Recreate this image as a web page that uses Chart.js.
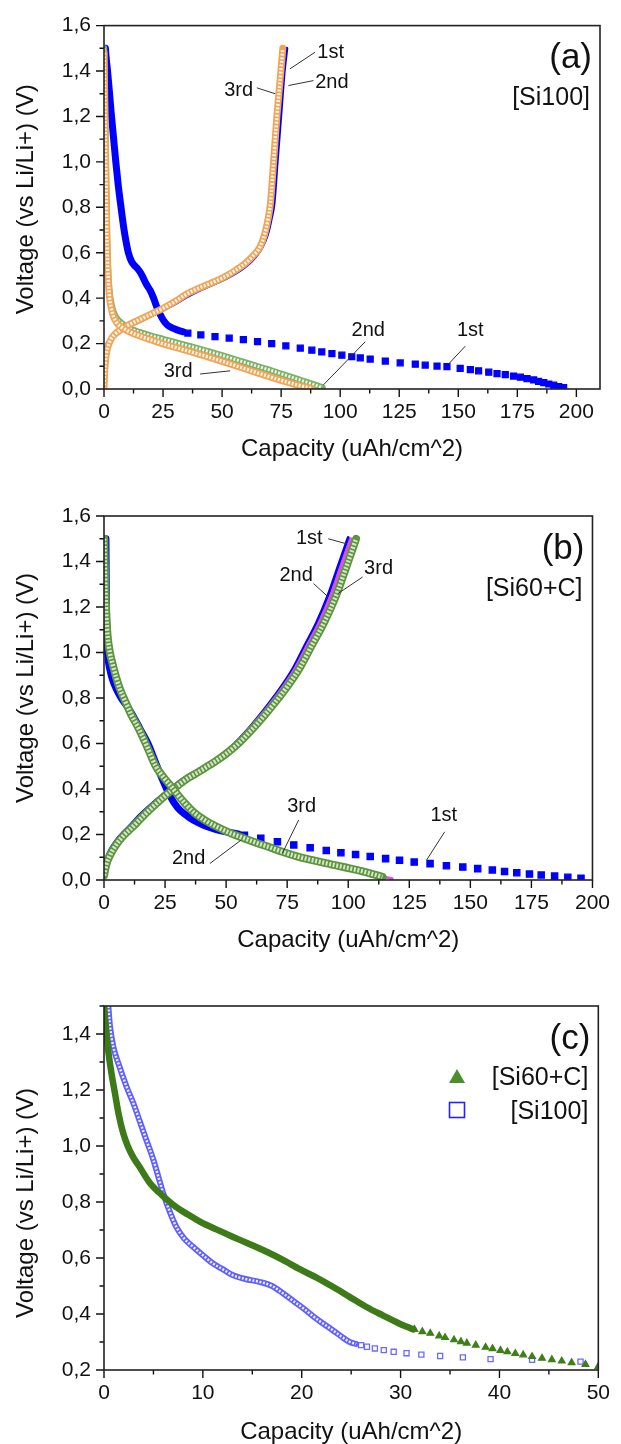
<!DOCTYPE html>
<html lang="en">
<head>
<meta charset="UTF-8" />
<title>Voltage vs capacity</title>
<script src="https://cdn.jsdelivr.net/npm/chart.js"></script>
<style>
  body { margin: 0; background: #fff; width: 621px; height: 1444px; position: relative; }
  .panel { position: absolute; left: 0; width: 621px; }
</style>
</head>
<body>
<div class="panel" style="top:0px"><canvas id="pa" width="621" height="480"></canvas></div>
<div class="panel" style="top:480px"><canvas id="pb" width="621" height="480"></canvas></div>
<div class="panel" style="top:960px"><canvas id="pc" width="621" height="484"></canvas></div>
<script>
// ---- panel (a) [Si100] ----
const aDis1Cap = [0.6, 1.0, 1.5, 2.2, 3.0, 4.0, 5.0, 6.0, 7.2, 8.5, 9.5, 10.3, 11.5, 12.8, 14.2, 15.6, 16.7, 18.0, 19.5, 21.0, 22.3, 23.7, 25.1, 27.0, 29.4, 31.5, 33.6];
const aDis1V = [1.50, 1.45, 1.40, 1.32, 1.22, 1.11, 1.00, 0.90, 0.80, 0.70, 0.64, 0.60, 0.565, 0.545, 0.53, 0.51, 0.487, 0.46, 0.435, 0.40, 0.362, 0.33, 0.303, 0.28, 0.267, 0.258, 0.252];
const aDis1TailCap = [35.5, 41, 47, 53, 59, 65, 71, 77, 83.1, 88, 92.2, 96.5, 100.7, 104.9, 108.5, 112.7, 119.1, 125.4, 131.8, 136, 141, 145.2, 150.8, 155.1, 158.6, 162.9, 166.4, 169.9, 173.4, 176.3, 179.1, 181.9, 184, 186.2, 188.3, 190.4, 192.5, 194.6];
const aDis1TailV = [0.246, 0.238, 0.231, 0.224, 0.217, 0.209, 0.2, 0.19, 0.18, 0.171, 0.163, 0.156, 0.149, 0.142, 0.137, 0.132, 0.123, 0.115, 0.109, 0.105, 0.101, 0.098, 0.091, 0.085, 0.08, 0.074, 0.068, 0.063, 0.057, 0.052, 0.046, 0.04, 0.034, 0.028, 0.022, 0.017, 0.011, 0.006];
const aDis2Cap = [0, 0.3, 0.6, 0.9, 1.2, 1.6, 2.2, 3, 4, 5.5, 7.5, 10, 13, 16, 20, 25, 30, 35, 40, 45, 50, 55, 60, 65, 70, 75, 80, 85, 89, 92.5];
const aDis2V = [1.5, 1.3, 1.1, 0.9, 0.7, 0.55, 0.44, 0.38, 0.34, 0.31, 0.29, 0.272, 0.258, 0.247, 0.234, 0.22, 0.206, 0.192, 0.178, 0.163, 0.148, 0.132, 0.116, 0.1, 0.084, 0.067, 0.05, 0.033, 0.019, 0.006];
const aDis3Cap = [0, 0.3, 0.6, 0.9, 1.2, 1.6, 2.2, 3, 4, 5.5, 7.5, 10, 13, 16, 20, 25, 30, 35, 40, 45, 50, 55, 60, 65, 70, 75, 80, 84, 88];
const aDis3V = [1.48, 1.28, 1.08, 0.88, 0.68, 0.53, 0.42, 0.36, 0.32, 0.29, 0.272, 0.256, 0.242, 0.23, 0.216, 0.199, 0.184, 0.169, 0.154, 0.138, 0.122, 0.105, 0.088, 0.071, 0.054, 0.038, 0.023, 0.012, 0.002];
const aChg1Cap = [0, 0.5, 1.5, 3, 5, 7.5, 10, 15, 20, 25, 30, 35, 40, 45, 50, 55, 60, 64, 67, 69.2, 70.8, 72, 73.3, 74.8, 76.3, 77.4];
const aChg1V = [0.155, 0.18, 0.205, 0.225, 0.243, 0.258, 0.272, 0.297, 0.322, 0.347, 0.375, 0.405, 0.432, 0.455, 0.478, 0.505, 0.54, 0.58, 0.625, 0.68, 0.75, 0.82, 1.0, 1.2, 1.4, 1.5];
const aChg2Cap = [0, 0.3, 0.8, 1.5, 3, 5, 7, 10, 15, 20, 25, 30, 35, 40, 45, 50, 55, 60, 63.5, 66.5, 68.6, 70.1, 71.2, 72.5, 73.9, 75.6, 76.5];
const aChg2V = [0, 0.06, 0.12, 0.17, 0.215, 0.24, 0.256, 0.277, 0.302, 0.327, 0.352, 0.382, 0.414, 0.44, 0.462, 0.485, 0.515, 0.552, 0.585, 0.625, 0.68, 0.75, 0.82, 1.0, 1.2, 1.4, 1.5];
const aChg3Cap = [0, 0.3, 0.8, 1.5, 3, 5, 7, 10, 15, 20, 25, 30, 35, 40, 45, 50, 55, 60, 63, 66, 68, 69.5, 70.5, 71.8, 73.2, 74.9, 75.7];
const aChg3V = [0, 0.08, 0.14, 0.18, 0.22, 0.245, 0.26, 0.28, 0.305, 0.33, 0.355, 0.385, 0.418, 0.443, 0.465, 0.488, 0.518, 0.555, 0.585, 0.625, 0.68, 0.75, 0.82, 1.0, 1.2, 1.4, 1.5];

// ---- panel (b) [Si60+C] ----
const bDis1Cap = [0.8, 0.9, 1.0, 1.2, 1.6, 2.3, 3.5, 5, 7, 9, 12, 15, 18, 21, 24, 27, 30, 33, 37, 41, 45, 50, 55];
const bDis1V = [1.5, 1.35, 1.2, 1.06, 0.98, 0.93, 0.88, 0.84, 0.8, 0.77, 0.72, 0.66, 0.6, 0.52, 0.44, 0.37, 0.32, 0.29, 0.26, 0.24, 0.225, 0.212, 0.202];
const bDis1TailCap = [57.5, 64.2, 71, 77.7, 84.4, 91, 97, 103, 109, 115.3, 121, 127, 133.5, 140.2, 146.9, 153, 159, 164, 169, 174.2, 179, 184.5, 189.9, 195.3];
const bDis1TailV = [0.197, 0.183, 0.168, 0.154, 0.142, 0.13, 0.12, 0.112, 0.103, 0.094, 0.087, 0.079, 0.072, 0.063, 0.057, 0.05, 0.044, 0.037, 0.032, 0.026, 0.022, 0.017, 0.012, 0.008];
const bDis2Cap = [0.1, 0.3, 0.6, 1.0, 1.5, 2.4, 3.5, 5, 6.5, 8.5, 11, 14.5, 17.5, 21.2, 24.5, 28, 30.5, 33.3, 37, 41.4, 46, 52, 57, 62, 67, 73, 79, 85, 92.5, 99, 105.9, 112, 118];
const bDis2V = [1.5, 1.38, 1.25, 1.13, 1.05, 0.98, 0.93, 0.875, 0.83, 0.78, 0.72, 0.65, 0.58, 0.49, 0.44, 0.395, 0.36, 0.325, 0.285, 0.252, 0.226, 0.196, 0.176, 0.156, 0.138, 0.116, 0.096, 0.08, 0.063, 0.048, 0.032, 0.019, 0.006];
const bDis3Cap = [0.1, 0.3, 0.6, 1.0, 1.5, 2.4, 3.5, 5, 6.5, 8.5, 11, 14.5, 17.5, 21.2, 24.5, 28, 30.5, 33.3, 37, 41.4, 46, 52, 57, 62, 67, 73, 79, 85, 92.5, 99, 105.9, 110, 114];
const bDis3V = [1.5, 1.4, 1.27, 1.15, 1.07, 1.0, 0.95, 0.89, 0.84, 0.79, 0.73, 0.66, 0.59, 0.5, 0.45, 0.405, 0.37, 0.335, 0.295, 0.262, 0.235, 0.205, 0.185, 0.165, 0.147, 0.124, 0.104, 0.088, 0.07, 0.055, 0.038, 0.026, 0.014];
const bChg1Cap = [0, 1, 2.5, 5, 8, 11.5, 14.5, 18, 21.5, 24.8, 28.4, 31.3, 34.2, 37.8, 41, 44.3, 48.8, 53.5, 58.3, 63, 67.8, 72.6, 77.4, 82.2, 87, 91.7, 95.6, 100];
const bChg1V = [0.066, 0.1, 0.135, 0.175, 0.212, 0.25, 0.285, 0.32, 0.353, 0.383, 0.413, 0.437, 0.458, 0.48, 0.5, 0.522, 0.555, 0.6, 0.655, 0.715, 0.78, 0.85, 0.93, 1.03, 1.13, 1.25, 1.37, 1.505];
const bChg2Cap = [0, 1, 2.5, 5, 8, 11.5, 14.7, 18.1, 21.5, 24.8, 28.4, 31.3, 34.2, 37.8, 41, 44.3, 48.8, 53.7, 58.6, 63.5, 68.4, 73.3, 78.2, 83.1, 88, 92.8, 96.7, 101];
const bChg2V = [0.04, 0.085, 0.125, 0.168, 0.207, 0.245, 0.28, 0.316, 0.35, 0.38, 0.411, 0.434, 0.455, 0.477, 0.498, 0.52, 0.555, 0.6, 0.655, 0.715, 0.78, 0.85, 0.93, 1.03, 1.13, 1.25, 1.37, 1.5];
const bChg3Cap = [0, 1, 2.5, 5, 8, 11.8, 15, 18.5, 22, 25.3, 29, 32, 35, 38.7, 42, 45.4, 50, 55, 60, 65, 70, 75, 80, 85, 90, 95, 99, 103.2];
const bChg3V = [0.02, 0.07, 0.11, 0.155, 0.195, 0.234, 0.27, 0.307, 0.342, 0.373, 0.405, 0.43, 0.452, 0.475, 0.497, 0.52, 0.555, 0.6, 0.655, 0.715, 0.78, 0.85, 0.93, 1.03, 1.13, 1.25, 1.37, 1.5];

// ---- panel (c) first discharge comparison ----
const cSiCCap = [0, 0.15, 0.3, 0.5, 0.8, 1.1, 1.5, 1.95, 2.4, 2.95, 3.6, 4.6, 6.0, 7.0, 8.5, 9.7, 11.3, 13, 14.7, 16.4, 18, 19.8, 21.5, 23.1, 24.8, 26.5, 28.2, 29.8, 30.6, 31.3];
const cSiCV = [1.5, 1.44, 1.38, 1.32, 1.25, 1.19, 1.11, 1.045, 1.0, 0.96, 0.925, 0.87, 0.82, 0.79, 0.755, 0.73, 0.703, 0.676, 0.65, 0.623, 0.595, 0.56, 0.53, 0.498, 0.462, 0.426, 0.395, 0.367, 0.355, 0.345];
const cSiCTailCap = [31.4, 32.2, 33.0, 33.9, 34.5, 35.4, 36.1, 36.7, 37.6, 38.6, 39.3, 40.1, 40.8, 41.6, 42.4, 43.3, 44.3, 45.3, 46.3, 47.3, 48.7, 50.0];
const cSiCTailV = [0.345, 0.337, 0.331, 0.322, 0.316, 0.308, 0.301, 0.296, 0.289, 0.281, 0.276, 0.27, 0.265, 0.259, 0.254, 0.248, 0.242, 0.237, 0.232, 0.226, 0.22, 0.213];
const cSiCap = [0.44, 0.6, 0.94, 1.5, 2.3, 3.0, 3.6, 4.3, 5.0, 5.5, 6.0, 6.6, 7.3, 8.1, 9.0, 10.0, 11.0, 12.0, 13.0, 14.3, 15.7, 17.0, 18.1, 19.2, 20.4, 21.4, 22.2, 23.1, 24.0, 24.8, 25.5];
const cSiV = [1.5, 1.43, 1.355, 1.29, 1.21, 1.15, 1.09, 1.02, 0.95, 0.89, 0.83, 0.77, 0.712, 0.67, 0.64, 0.61, 0.581, 0.56, 0.539, 0.525, 0.515, 0.5, 0.474, 0.445, 0.414, 0.385, 0.365, 0.343, 0.32, 0.301, 0.293];
const cSiTailCap = [26, 26.6, 27.4, 28.3, 29.3, 30.6, 32.1, 34, 36.3, 39.1, 43.3, 48.2];
const cSiTailV = [0.289, 0.283, 0.277, 0.271, 0.265, 0.26, 0.255, 0.25, 0.245, 0.239, 0.236, 0.23];

// ticks
const abXTicks = [0, 25, 50, 75, 100, 125, 150, 175, 200];
const abXMinor = [12.5, 37.5, 62.5, 87.5, 112.5, 137.5, 162.5, 187.5];
const abYTicks = [0, 0.2, 0.4, 0.6, 0.8, 1.0, 1.2, 1.4, 1.6];
const abYMinor = [0.1, 0.3, 0.5, 0.7, 0.9, 1.1, 1.3, 1.5];
const cXTicks = [0, 10, 20, 30, 40, 50];
const cXMinor = [5, 15, 25, 35, 45];
const cYTicks = [0.2, 0.4, 0.6, 0.8, 1.0, 1.2, 1.4];
const cYMinor = [0.3, 0.5, 0.7, 0.9, 1.1, 1.3, 1.5];

const FONT = '"Liberation Sans", Arial, Helvetica, sans-serif';
Chart.defaults.font.family = FONT;
Chart.defaults.color = '#111';

function pts(xs, ys) { return xs.map((x, i) => ({ x: x, y: ys[i] })); }

function line(xs, ys, color, w, dash) {
  return { data: pts(xs, ys), showLine: true, borderColor: color, borderWidth: w, pointRadius: 0,
    borderDash: dash || [], cubicInterpolationMode: 'monotone', borderCapStyle: dash ? 'butt' : 'round', borderJoinStyle: 'round' };
}
// chain of open markers -> coloured band with a speckled pale core
function hollow(xs, ys, edge, core, w) {
  return [line(xs, ys, core, Math.max(1, w - 3.5), [2, 1.6]), line(xs, ys, edge, w)];
}
function marks(xs, ys, style, r, color, fill) {
  return { data: pts(xs, ys), showLine: false, pointStyle: style, pointRadius: r, pointBorderWidth: 1.3,
    pointBorderColor: color, pointBackgroundColor: fill, borderColor: color, backgroundColor: fill };
}

const deco = {
  id: 'deco',
  afterDraw(chart, args, o) {
    const ctx = chart.ctx, a = chart.chartArea, sx = chart.scales.x, sy = chart.scales.y;
    ctx.save();
    // tick marks
    ctx.strokeStyle = '#111';
    ctx.lineWidth = 1.4;
    ctx.beginPath();
    o.xMajor.forEach(v => { const p = sx.getPixelForValue(v); ctx.moveTo(p, a.bottom); ctx.lineTo(p, a.bottom + 8); });
    o.xMinor.forEach(v => { const p = sx.getPixelForValue(v); ctx.moveTo(p, a.bottom); ctx.lineTo(p, a.bottom + 4.5); });
    o.yMajor.forEach(v => { const p = sy.getPixelForValue(v); ctx.moveTo(a.left, p); ctx.lineTo(a.left - 8, p); });
    o.yMinor.forEach(v => { const p = sy.getPixelForValue(v); ctx.moveTo(a.left, p); ctx.lineTo(a.left - 4.5, p); });
    ctx.stroke();
    // frame
    ctx.strokeStyle = '#222';
    ctx.lineWidth = 1.6;
    ctx.strokeRect(a.left, a.top, a.right - a.left, a.bottom - a.top);

    // axis titles
    ctx.fillStyle = '#111';
    ctx.font = '24px ' + FONT;
    ctx.textAlign = 'center';
    ctx.textBaseline = 'alphabetic';
    ctx.fillText('Capacity (uAh/cm^2)', (a.left + a.right) / 2, a.bottom + o.xTitleOff);
    ctx.save();
    ctx.translate(33, (a.top + a.bottom) / 2 + o.yTitleShift);
    ctx.rotate(-Math.PI / 2);
    ctx.fillText('Voltage (vs Li/Li+) (V)', 0, 0);
    ctx.restore();

    // panel tag and sample name
    ctx.textAlign = 'right';
    ctx.textBaseline = 'middle';
    ctx.font = '35px ' + FONT;
    ctx.fillText(o.tag, a.right - 8, a.top + 33);
    if (o.sample) {
      ctx.font = '25px ' + FONT;
      ctx.fillText(o.sample, a.right - 10, a.top + 73);
    }

    // cycle notes with leader lines
    ctx.font = '20px ' + FONT;
    (o.notes || []).forEach(n => {
      ctx.strokeStyle = '#333';
      ctx.lineWidth = 1;
      ctx.beginPath();
      ctx.moveTo(sx.getPixelForValue(n.l[0]), sy.getPixelForValue(n.l[1]));
      ctx.lineTo(sx.getPixelForValue(n.l[2]), sy.getPixelForValue(n.l[3]));
      ctx.stroke();
      ctx.textAlign = n.align;
      ctx.fillText(n.t, sx.getPixelForValue(n.x), sy.getPixelForValue(n.y));
    });

    // legend (panel c)
    (o.legend || []).forEach(it => {
      const mx = a.left + 353, my = a.top + it.dy;
      if (it.shape === 'triangle') {
        ctx.fillStyle = it.color;
        ctx.beginPath();
        ctx.moveTo(mx, my - 7); ctx.lineTo(mx + 8, my + 7); ctx.lineTo(mx - 8, my + 7); ctx.closePath();
        ctx.fill();
      } else {
        ctx.strokeStyle = it.color;
        ctx.lineWidth = 1.6;
        ctx.strokeRect(mx - 7.5, my - 7.5, 15, 15);
      }
      ctx.fillStyle = '#111';
      ctx.font = '25px ' + FONT;
      ctx.textAlign = 'right';
      ctx.fillText(it.label, a.right - 10, my + 2);
    });
    ctx.restore();
  }
};

function scales(xMax, yMin, yMax, xTicks, yTicks, xH) {
  return {
    x: {
      type: 'linear', min: 0, max: xMax,
      afterBuildTicks: s => { s.ticks = xTicks.map(v => ({ value: v })); },
      afterFit: s => { s.height = xH; },
      grid: { display: false, drawTicks: false }, border: { display: false },
      ticks: { autoSkip: false, maxRotation: 0, padding: 11, font: { size: 21 }, color: '#111', callback: v => String(v) }
    },
    y: {
      type: 'linear', min: yMin, max: yMax,
      afterBuildTicks: s => { s.ticks = yTicks.map(v => ({ value: v })); },
      afterFit: s => { s.width = 104; },
      grid: { display: false, drawTicks: false }, border: { display: false },
      ticks: { autoSkip: false, padding: 13, font: { size: 21 }, color: '#111', callback: v => v.toFixed(1).replace('.', ',') }
    }
  };
}

function make(id, datasets, sc, pad, deco_opts) {
  return new Chart(document.getElementById(id), {
    type: 'scatter',
    data: { datasets: datasets },
    options: {
      responsive: false, animation: false, devicePixelRatio: 1,
      layout: { padding: pad },
      scales: sc,
      plugins: { legend: { display: false }, tooltip: { enabled: false }, deco: deco_opts }
    },
    plugins: [deco]
  });
}

const BLUE = '#0000ff';

// (a)
make('pa', [
  ...hollow(aDis3Cap, aDis3V, '#efa458', '#fff4e8', 7),
  ...hollow(aChg3Cap, aChg3V, '#efa458', '#fff4e8', 7),
  ...hollow(aDis2Cap, aDis2V, '#7cb266', '#f0f7ea', 6.5),
  line(aChg2Cap, aChg2V, '#78b060', 2.5),
  line(aChg1Cap, aChg1V, BLUE, 3),
  line(aDis1Cap, aDis1V, BLUE, 7),
  marks(aDis1TailCap, aDis1TailV, 'rect', 4.2, BLUE, BLUE)
], scales(210, 0, 1.6, abXTicks, abYTicks, 91), { top: 25, right: 21, left: 0, bottom: 0 }, {
  tag: '(a)', sample: '[Si100]', xTitleOff: 67, yTitleShift: -8,
  xMajor: abXTicks, xMinor: abXMinor, yMajor: abYTicks, yMinor: abYMinor,
  notes: [
    { t: '1st', x: 90.3, y: 1.481, align: 'left', l: [78.8, 1.41, 89.4, 1.483] },
    { t: '2nd', x: 89.4, y: 1.349, align: 'left', l: [78.1, 1.336, 88.7, 1.358] },
    { t: '3rd', x: 63.1, y: 1.314, align: 'right', l: [64.7, 1.326, 72.5, 1.3] },
    { t: '2nd', x: 111.9, y: 0.259, align: 'center', l: [110.6, 0.208, 92.9, 0.018] },
    { t: '1st', x: 155.1, y: 0.259, align: 'center', l: [153, 0.189, 145.9, 0.11] },
    { t: '3rd', x: 31.4, y: 0.079, align: 'center', l: [40.7, 0.066, 53.4, 0.08] }
  ]
});

// (b)
make('pb', [
  ...hollow(bDis3Cap, bDis3V, '#5d9440', '#d4e6c6', 8),
  ...hollow(bChg3Cap, bChg3V, '#5d9440', '#d4e6c6', 8),
  line(bDis2Cap, bDis2V, '#e050e0', 3),
  line(bChg2Cap, bChg2V, '#e050e0', 3),
  line(bChg1Cap, bChg1V, BLUE, 3),
  line(bDis1Cap, bDis1V, BLUE, 7),
  marks(bDis1TailCap, bDis1TailV, 'rect', 4.4, BLUE, BLUE)
], scales(200, 0, 1.6, abXTicks, abYTicks, 80), { top: 36, right: 21, left: 0, bottom: 0 }, {
  tag: '(b)', sample: '[Si60+C]', xTitleOff: 67, yTitleShift: -10,
  xMajor: abXTicks, xMinor: abXMinor, yMajor: abYTicks, yMinor: abYMinor,
  notes: [
    { t: '1st', x: 89.5, y: 1.502, align: 'right', l: [91.8, 1.5, 99.2, 1.478] },
    { t: '2nd', x: 85.5, y: 1.339, align: 'right', l: [85.8, 1.303, 91.8, 1.244] },
    { t: '3rd', x: 106.5, y: 1.37, align: 'left', l: [105.9, 1.332, 95.8, 1.259] },
    { t: '3rd', x: 75, y: 0.322, align: 'left', l: [79.7, 0.264, 73, 0.117] },
    { t: '2nd', x: 27.8, y: 0.095, align: 'left', l: [43.4, 0.073, 56.2, 0.176] },
    { t: '1st', x: 139.1, y: 0.285, align: 'center', l: [139.5, 0.212, 132.1, 0.088] }
  ]
});

// (c)
make('pc', [
  line(cSiCCap, cSiCV, '#3d7a18', 6.5),
  marks(cSiCTailCap, cSiCTailV, 'triangle', 3.8, '#3f7f1a', '#3f7f1a'),
  ...hollow(cSiCap, cSiV, '#6060ff', '#f0f0ff', 6),
  marks(cSiTailCap, cSiTailV, 'rect', 3.6, '#6a6aff', 'rgba(255,255,255,0)')
], scales(50, 0.2, 1.5, cXTicks, cYTicks, 74), { top: 46, right: 21, left: 0, bottom: 0 }, {
  tag: '(c)', xTitleOff: 69, yTitleShift: 15,
  xMajor: cXTicks, xMinor: cXMinor, yMajor: cYTicks, yMinor: cYMinor,
  legend: [
    { label: '[Si60+C]', shape: 'triangle', color: '#4a8f2c', dy: 70 },
    { label: '[Si100]', shape: 'square', color: '#2222ff', dy: 104 }
  ]
});
</script>
</body>
</html>
